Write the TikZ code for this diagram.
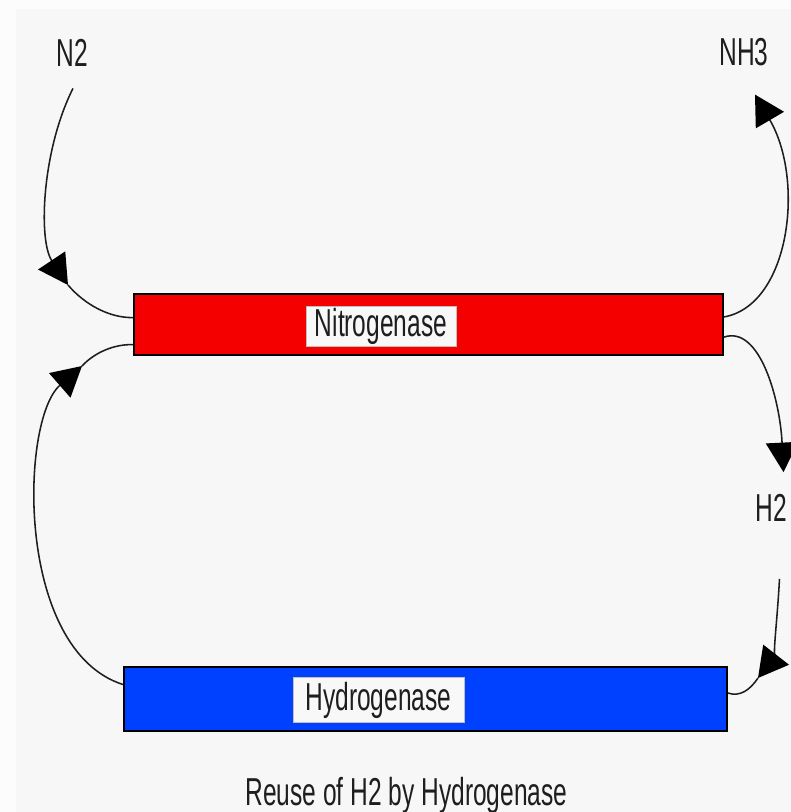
\documentclass[tikz,border=0pt]{standalone}
\usepackage{fontspec}
\newfontfamily\figfont[FakeStretch=0.63]{Liberation Sans}
\usetikzlibrary{arrows.meta,calc}
\definecolor{figline}{RGB}{30,30,30}
\definecolor{nitrored}{RGB}{245,0,0}
\definecolor{hydroblue}{RGB}{0,64,255}
\definecolor{panelbg}{RGB}{247,247,247}
\definecolor{pagebg}{RGB}{252,252,252}
\definecolor{tagbg}{RGB}{248,248,248}
\tikzset{
  enz/.style ={draw=black, line width=1.4pt, inner sep=0pt},
  tag/.style ={draw=black!25, line width=0.6pt, fill=tagbg, inner sep=0pt, text=figline, font=\figfont\fontsize{27.7}{30}\selectfont},
  lab/.style ={inner sep=0pt, text=figline, font=\figfont\fontsize{27.7}{30}\selectfont},
  con/.style ={draw=figline, line width=1.1pt},
  ptr/.style ={con, -{Triangle[length=21pt,width=23pt,color=black]}},
}
\begin{document}
\begin{tikzpicture}[x=0.025cm,y=-0.025cm]
  \useasboundingbox (0,0) rectangle (791,812);
  \fill[pagebg] (0,0) rectangle (791,812);
  \fill[panelbg] (16,9) rectangle (791,812);
  % enzymes
  \node[enz,fill=nitrored,minimum width=14.725cm,minimum height=1.525cm] (nitro) at (428.5,324.5) {};
  \node[enz,fill=hydroblue,minimum width=15.075cm,minimum height=1.6cm] (hydro) at (425.5,699) {};
  \node[tag,minimum width=3.75cm,minimum height=1cm] (nitrotag) at (381,326) {Nitrogenase};
  \node[tag,minimum width=4.275cm,minimum height=1.125cm] (hydrotag) at (378.5,700) {Hydrogenase};
  % labels
  \node[lab] (n2) at (72,52.5) {N2};
  \node[lab] (nh3) at (744,52.5) {NH3};
  \node[lab] (h2) at (771.5,508) {H2};
  \node[lab,anchor=base] (caption) at (406.5,805) {Reuse of H2 by Hydrogenase};
  % ports on the boxes
  \coordinate (nitroA) at ($(nitro.north west)!0.39!(nitro.south west)$);
  \coordinate (nitroE) at ($(nitro.north west)!0.82!(nitro.south west)$);
  \coordinate (nitroB) at ($(nitro.north east)!0.38!(nitro.south east)$);
  \coordinate (nitroC) at ($(nitro.north east)!0.70!(nitro.south east)$);
  \coordinate (hydroD) at ($(hydro.north east)!0.41!(hydro.south east)$);
  \coordinate (hydroE) at ($(hydro.north west)!0.28!(hydro.south west)$);
  \coordinate (n2bend) at (68,285);
  \coordinate (h2bend) at (758,678);
  \coordinate (hybend) at (82,366);
  % N2 in
  \draw[ptr] ($(n2.south)+(1,22)$) .. controls (42,150) and (38,240) .. (n2bend);
  \draw[con] (n2bend) .. controls (85,305) and (110,318) .. (nitroA);
  % NH3 out
  \draw[ptr] (nitroB) .. controls (790,305) and (805,180) .. ($(nh3.south)+(11,28)$);
  % H2 out
  \draw[ptr] (nitroC) .. controls (760,325) and (780,400) .. ($(h2.north)+(12,-22)$);
  % H2 to hydrogenase
  \draw[ptr] ($(h2.south)+(8,57)$) .. controls (777,625) and (772,660) .. (h2bend);
  \draw[con] (h2bend) .. controls (750,690) and (740,697) .. (hydroD);
  % back to nitrogenase
  \draw[ptr] (hydroE) .. controls (15,650) and (20,420) .. (hybend);
  \draw[con] (hybend) .. controls (95,352) and (115,344) .. (nitroE);
\end{tikzpicture}
\end{document}
